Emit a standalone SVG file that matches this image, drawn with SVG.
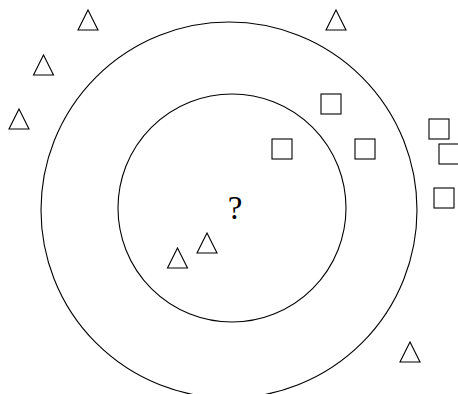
<svg xmlns="http://www.w3.org/2000/svg" width="458" height="394" viewBox="0 0 458 394">
<style>
.c{fill:none;stroke:#000;stroke-width:1.1}
.t{fill:none;stroke:#000;stroke-width:1.1}
.s{fill:none;stroke:#000;stroke-width:1.1}
.q{font-family:"Liberation Serif",serif;font-size:33px;fill:#000}
</style>
<defs>
<path id="tri" d="M0,0 L10,20 L-10,20 Z"/>
<rect id="sq" width="20" height="20"/>
</defs>
<rect width="458" height="394" fill="#fff"/>
<g id="circles">
<circle class="c" cx="229" cy="210" r="188"/>
<circle class="c" cx="232" cy="208" r="114"/>
</g>
<g id="triangles">
<use href="#tri" class="t" x="88" y="10"/>
<use href="#tri" class="t" x="43.5" y="55"/>
<use href="#tri" class="t" x="19" y="109"/>
<use href="#tri" class="t" x="336" y="10"/>
<use href="#tri" class="t" x="410" y="342"/>
<use href="#tri" class="t" x="177.5" y="248"/>
<use href="#tri" class="t" x="207" y="233"/>
</g>
<g id="squares">
<use href="#sq" class="s" x="321" y="94"/>
<use href="#sq" class="s" x="355" y="139"/>
<use href="#sq" class="s" x="272" y="139"/>
<use href="#sq" class="s" x="429" y="119"/>
<use href="#sq" class="s" x="439" y="144"/>
<use href="#sq" class="s" x="434" y="188"/>
</g>
<g id="query">
<text class="q" x="235" y="219" text-anchor="middle">?</text>
</g>
</svg>
